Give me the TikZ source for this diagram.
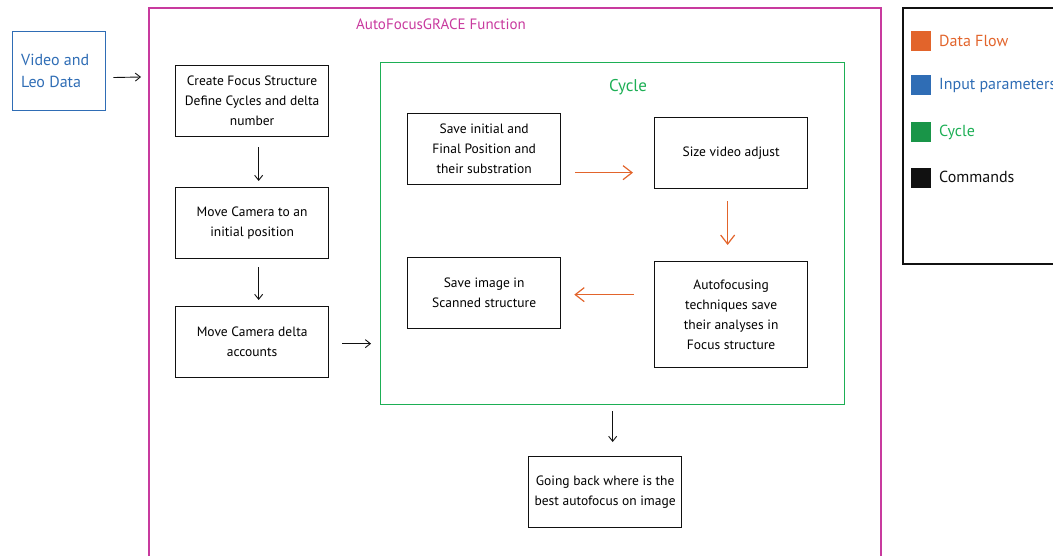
\documentclass[tikz,border=0pt]{standalone}
\usepackage{fontspec}
\setmainfont{PT Sans}
\usetikzlibrary{arrows.meta}
\definecolor{cmag}{HTML}{C83A9E}
\definecolor{cgreen}{HTML}{1DAF55}
\definecolor{cblue}{HTML}{2F6DB5}
\definecolor{corange}{HTML}{E2642B}
\definecolor{cblack}{HTML}{111111}
\tikzset{
  cmdbox/.style={draw=cblack, line width=1.3pt, minimum width=153pt, minimum height=71pt, align=center, font=\fontsize{13.5}{20}\selectfont, inner sep=0pt, anchor=north west},
  blkarrow/.style={draw=cblack, line width=0.9pt, -{Straight Barb[length=5pt,width=8pt]}},
  orarrow/.style={draw=corange, line width=1.2pt, -{Straight Barb[length=9pt,width=14pt]}},
  legsq/.style={minimum size=20pt, inner sep=0pt, anchor=north west},
  legtxt/.style={anchor=west, font=\fontsize{16}{18}\selectfont, inner sep=0pt}
}
\begin{document}
\begin{tikzpicture}[x=1pt,y=-1pt]
\useasboundingbox (0,0) rectangle (1053,556);
% input
\node[draw=cblue, line width=1.3pt, minimum width=93pt, minimum height=79pt, anchor=north west, inner sep=0pt] (vid) at (12,31) {};
\node[anchor=west, align=left, text=cblue, font=\fontsize{16}{22}\selectfont, inner sep=0pt] (vidt) at (21,71) {Video and\\Leo Data};
% main function frame
\draw[cmag, line width=1.1pt] (149,570) -- (149,8) -- (881,8) -- (881,570);
\coordinate (fnleft) at (141,77);
\node[text=cmag, font=\fontsize{15}{17}\selectfont] (fntitle) at (441,24) {AutoFocusGRACE Function};
% left column
\node[cmdbox] (b1) at (175,65) {Create Focus Structure\\Define Cycles and delta\\number};
\node[cmdbox] (b2) at (175,187) {Move Camera to an\\initial position};
\node[cmdbox] (b3) at (175,306) {Move Camera delta\\accounts};
% cycle frame
\node[draw=cgreen, line width=1.3pt, minimum width=464pt, minimum height=342pt, anchor=north west, inner sep=0pt] (cyc) at (380,62) {};
\node[text=cgreen, font=\fontsize{17}{19}\selectfont] (cyct) at (628,87) {Cycle};
\node[cmdbox] (ca) at (407,113) {Save initial and\\Final Position and\\their substration};
\node[cmdbox] (cb) at (654,117) {Size video adjust};
\node[cmdbox, minimum height=106pt] (cc) at (654,261) {Autofocusing\\techniques save\\their analyses in\\Focus structure};
\node[cmdbox] (cd) at (407,257) {Save image in\\Scanned structure};
\node[cmdbox] (ce) at (528,456) {Going back where is the\\best autofocus on image};
% arrows
\draw[blkarrow, shorten <=7pt] ([yshift=-6.5pt]vid.east) -- (fnleft);
\draw[blkarrow, shorten <=10pt, shorten >=6pt] ([xshift=6.5pt]b1.south) -- ([xshift=6.5pt]b2.north);
\draw[blkarrow, shorten <=8pt, shorten >=6pt] ([xshift=6.5pt]b2.south) -- ([xshift=6.5pt]b3.north);
\draw[blkarrow, shorten <=13pt, shorten >=9pt] ([yshift=-1.5pt]b3.east) -- ([yshift=-1.5pt]b3.east -| cyc.west);
\draw[orarrow, shorten <=14pt, shorten >=21pt] ([yshift=-23.5pt]ca.east) -- ([yshift=-23.5pt]ca.east -| cb.west);
\draw[orarrow, shorten <=12pt, shorten >=16pt] ([xshift=-3.5pt]cb.south) -- ([xshift=-3.5pt]cb.south |- cc.north);
\draw[orarrow, shorten <=20pt, shorten >=13pt] ([yshift=-1.5pt]cd.east -| cc.west) -- ([yshift=-1.5pt]cd.east);
\draw[blkarrow, shorten <=6pt, shorten >=14pt] (cyc.south) -- (cyc.south |- ce.north);
% legend
\draw[cblack, line width=1.3pt] (1060,8) -- (903,8) -- (903,264) -- (1060,264);
\node[legsq, fill=corange] (l1) at (911,31) {};
\node[legsq, fill=cblue] (l2) at (911,75) {};
\node[legsq, fill=cgreen!85!black] (l3) at (911,122) {};
\node[legsq, fill=cblack] (l4) at (911,168) {};
\node[legtxt, text=corange] (t1) at (939,41) {Data Flow};
\node[legtxt, text=cblue] (t2) at (939,86) {Input parameters};
\node[legtxt, text=cgreen] (t3) at (939,132) {Cycle};
\node[legtxt, text=cblack] (t4) at (939,177) {Commands};
\end{tikzpicture}
\end{document}
